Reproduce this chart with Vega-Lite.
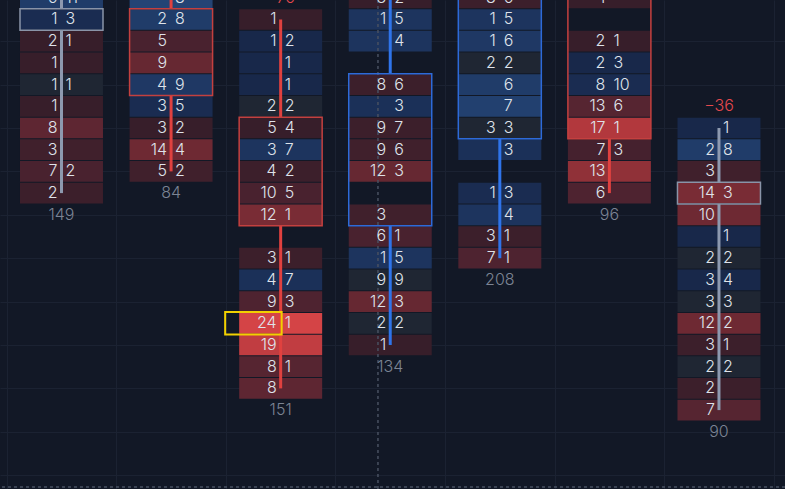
{
  "$schema": "https://vega.github.io/schema/vega-lite/v6.json",
  "width": 785,
  "height": 489,
  "padding": 0,
  "autosize": {"type": "fit", "contains": "padding"},
  "background": "#121826",
  "config": {
    "view": {"stroke": null},
    "axis": {"labels": false, "ticks": false, "domain": false, "title": null, "grid": true, "gridColor": "#1b2232", "gridWidth": 1},
    "text": {"font": "Inter", "fontSize": 16, "fontWeight": 300}
  },
  "datasets": {
    "cells": [
      {"c": 0, "level": -1, "bid": 5, "ask": 11, "delta": 6},
      {"c": 0, "level": 0, "bid": 1, "ask": 3, "delta": 2},
      {"c": 0, "level": 1, "bid": 2, "ask": 1, "delta": -1},
      {"c": 0, "level": 2, "bid": 1, "ask": null, "delta": -1},
      {"c": 0, "level": 3, "bid": 1, "ask": 1, "delta": 0},
      {"c": 0, "level": 4, "bid": 1, "ask": null, "delta": -1},
      {"c": 0, "level": 5, "bid": 8, "ask": null, "delta": -8},
      {"c": 0, "level": 6, "bid": 3, "ask": null, "delta": -3},
      {"c": 0, "level": 7, "bid": 7, "ask": 2, "delta": -5},
      {"c": 0, "level": 8, "bid": 2, "ask": null, "delta": -2},
      {"c": 1, "level": -1, "bid": null, "ask": 8, "delta": 8},
      {"c": 1, "level": 0, "bid": 2, "ask": 8, "delta": 6},
      {"c": 1, "level": 1, "bid": 5, "ask": null, "delta": -5},
      {"c": 1, "level": 2, "bid": 9, "ask": null, "delta": -9},
      {"c": 1, "level": 3, "bid": 4, "ask": 9, "delta": 5},
      {"c": 1, "level": 4, "bid": 3, "ask": 5, "delta": 2},
      {"c": 1, "level": 5, "bid": 3, "ask": 2, "delta": -1},
      {"c": 1, "level": 6, "bid": 14, "ask": 4, "delta": -10},
      {"c": 1, "level": 7, "bid": 5, "ask": 2, "delta": -3},
      {"c": 2, "level": 0, "bid": 1, "ask": null, "delta": -1},
      {"c": 2, "level": 1, "bid": 1, "ask": 2, "delta": 1},
      {"c": 2, "level": 2, "bid": null, "ask": 1, "delta": 1},
      {"c": 2, "level": 3, "bid": null, "ask": 1, "delta": 1},
      {"c": 2, "level": 4, "bid": 2, "ask": 2, "delta": 0},
      {"c": 2, "level": 5, "bid": 5, "ask": 4, "delta": -1},
      {"c": 2, "level": 6, "bid": 3, "ask": 7, "delta": 4},
      {"c": 2, "level": 7, "bid": 4, "ask": 2, "delta": -2},
      {"c": 2, "level": 8, "bid": 10, "ask": 5, "delta": -5},
      {"c": 2, "level": 9, "bid": 12, "ask": 1, "delta": -11},
      {"c": 2, "level": 11, "bid": 3, "ask": 1, "delta": -2},
      {"c": 2, "level": 12, "bid": 4, "ask": 7, "delta": 3},
      {"c": 2, "level": 13, "bid": 9, "ask": 3, "delta": -6},
      {"c": 2, "level": 14, "bid": 24, "ask": 1, "delta": -23},
      {"c": 2, "level": 15, "bid": 19, "ask": null, "delta": -19},
      {"c": 2, "level": 16, "bid": 8, "ask": 1, "delta": -7},
      {"c": 2, "level": 17, "bid": 8, "ask": null, "delta": -8},
      {"c": 3, "level": -1, "bid": 3, "ask": 2, "delta": -1},
      {"c": 3, "level": 0, "bid": 1, "ask": 5, "delta": 4},
      {"c": 3, "level": 1, "bid": null, "ask": 4, "delta": 4},
      {"c": 3, "level": 3, "bid": 8, "ask": 6, "delta": -2},
      {"c": 3, "level": 4, "bid": null, "ask": 3, "delta": 3},
      {"c": 3, "level": 5, "bid": 9, "ask": 7, "delta": -2},
      {"c": 3, "level": 6, "bid": 9, "ask": 6, "delta": -3},
      {"c": 3, "level": 7, "bid": 12, "ask": 3, "delta": -9},
      {"c": 3, "level": 9, "bid": 3, "ask": null, "delta": -3},
      {"c": 3, "level": 10, "bid": 6, "ask": 1, "delta": -5},
      {"c": 3, "level": 11, "bid": 1, "ask": 5, "delta": 4},
      {"c": 3, "level": 12, "bid": 9, "ask": 9, "delta": 0},
      {"c": 3, "level": 13, "bid": 12, "ask": 3, "delta": -9},
      {"c": 3, "level": 14, "bid": 2, "ask": 2, "delta": 0},
      {"c": 3, "level": 15, "bid": 1, "ask": null, "delta": -1},
      {"c": 4, "level": -1, "bid": 8, "ask": 6, "delta": -2},
      {"c": 4, "level": 0, "bid": 1, "ask": 5, "delta": 4},
      {"c": 4, "level": 1, "bid": 1, "ask": 6, "delta": 5},
      {"c": 4, "level": 2, "bid": 2, "ask": 2, "delta": 0},
      {"c": 4, "level": 3, "bid": null, "ask": 6, "delta": 6},
      {"c": 4, "level": 4, "bid": null, "ask": 7, "delta": 7},
      {"c": 4, "level": 5, "bid": 3, "ask": 3, "delta": 0},
      {"c": 4, "level": 6, "bid": null, "ask": 3, "delta": 3},
      {"c": 4, "level": 8, "bid": 1, "ask": 3, "delta": 2},
      {"c": 4, "level": 9, "bid": null, "ask": 4, "delta": 4},
      {"c": 4, "level": 10, "bid": 3, "ask": 1, "delta": -2},
      {"c": 4, "level": 11, "bid": 7, "ask": 1, "delta": -6},
      {"c": 5, "level": -1, "bid": 1, "ask": null, "delta": -1},
      {"c": 5, "level": 1, "bid": 2, "ask": 1, "delta": -1},
      {"c": 5, "level": 2, "bid": 2, "ask": 3, "delta": 1},
      {"c": 5, "level": 3, "bid": 8, "ask": 10, "delta": 2},
      {"c": 5, "level": 4, "bid": 13, "ask": 6, "delta": -7},
      {"c": 5, "level": 5, "bid": 17, "ask": 1, "delta": -16},
      {"c": 5, "level": 6, "bid": 7, "ask": 3, "delta": -4},
      {"c": 5, "level": 7, "bid": 13, "ask": null, "delta": -13},
      {"c": 5, "level": 8, "bid": 6, "ask": null, "delta": -6},
      {"c": 6, "level": 5, "bid": null, "ask": 1, "delta": 1},
      {"c": 6, "level": 6, "bid": 2, "ask": 8, "delta": 6},
      {"c": 6, "level": 7, "bid": 3, "ask": null, "delta": -3},
      {"c": 6, "level": 8, "bid": 14, "ask": 3, "delta": -11},
      {"c": 6, "level": 9, "bid": 10, "ask": null, "delta": -10},
      {"c": 6, "level": 10, "bid": null, "ask": 1, "delta": 1},
      {"c": 6, "level": 11, "bid": 2, "ask": 2, "delta": 0},
      {"c": 6, "level": 12, "bid": 3, "ask": 4, "delta": 1},
      {"c": 6, "level": 13, "bid": 3, "ask": 3, "delta": 0},
      {"c": 6, "level": 14, "bid": 12, "ask": 2, "delta": -10},
      {"c": 6, "level": 15, "bid": 3, "ask": 1, "delta": -2},
      {"c": 6, "level": 16, "bid": 2, "ask": 2, "delta": 0},
      {"c": 6, "level": 17, "bid": 2, "ask": null, "delta": -2},
      {"c": 6, "level": 18, "bid": 7, "ask": null, "delta": -7}
    ],
    "candles": [
      {"c": 0, "dir": "flat", "high": -3, "top": 0, "bot": 0, "low": 8, "total": 149, "net": null},
      {"c": 1, "dir": "down", "high": -3, "top": 0, "bot": 3, "low": 7, "total": 84, "net": null},
      {"c": 2, "dir": "down", "high": 0, "top": 5, "bot": 9, "low": 17, "total": 151, "net": -76},
      {"c": 3, "dir": "up", "high": -3, "top": 3, "bot": 9, "low": 15, "total": 134, "net": null},
      {"c": 4, "dir": "up", "high": -6, "top": -4, "bot": 5, "low": 11, "total": 208, "net": null},
      {"c": 5, "dir": "down", "high": -6, "top": -4, "bot": 5, "low": 8, "total": 96, "net": null},
      {"c": 6, "dir": "flat", "high": 5, "top": 8, "bot": 8, "low": 18, "total": 90, "net": -36}
    ],
    "marker": [{"c": 2, "level": 14}],
    "cursor": [{"cx": 2.888, "cy": 21.54}]
  },
  "encoding": {
    "x": {"field": "c", "type": "quantitative", "scale": {"domain": [-0.5612, 6.6025], "nice": false, "zero": false}, "axis": {"values": [-0.5, 0.5, 1.5, 2.5, 3.5, 4.5, 5.5, 6.5]}}
  },
  "layer": [
    {
      "data": {"name": "cells"},
      "mark": {"type": "rect", "clip": true, "xOffset": -41.5, "x2Offset": 41.5, "yOffset": -10.35, "y2Offset": 10.35},
      "encoding": {
        "x2": {"field": "c"},
        "y": {"field": "level", "type": "quantitative", "scale": {"domain": [-0.8986, 21.636], "nice": false, "zero": false, "reverse": true}, "axis": {"values": [-1, 1, 3, 5, 7, 9, 11, 13, 15, 17, 19, 21]}},
        "y2": {"field": "level"},
        "color": {"field": "delta", "type": "quantitative", "legend": null, "scale": {"domain": [-23, -16, -10, -6, -1, 0, 1, 3, 7], "range": ["#d44446", "#b2383d", "#6e2933", "#4e2330", "#371e2a", "#1f2633", "#18284a", "#1b3058", "#22406f"], "interpolate": "rgb"}}
      }
    },
    {
      "data": {"name": "cursor"},
      "mark": {"type": "rule", "clip": true, "color": "#485061", "strokeDash": [3, 3], "strokeWidth": 1.5},
      "encoding": {"x": {"field": "cx", "type": "quantitative"}}
    },
    {
      "data": {"name": "cursor"},
      "mark": {"type": "rule", "clip": true, "color": "#485061", "strokeDash": [3, 3], "strokeWidth": 1.5},
      "encoding": {"x": null, "y": {"field": "cy", "type": "quantitative"}}
    },
    {
      "data": {"name": "candles"},
      "mark": {"type": "rule", "clip": true, "strokeWidth": 3, "y2Offset": -10.85},
      "encoding": {
        "y": {"field": "high", "type": "quantitative"},
        "y2": {"field": "top"},
        "color": {"field": "dir", "type": "nominal", "legend": null, "scale": {"domain": ["down", "up", "flat"], "range": ["#e0413f", "#2f74ea", "#8d99af"]}}
      }
    },
    {
      "data": {"name": "candles"},
      "mark": {"type": "rule", "clip": true, "strokeWidth": 3, "yOffset": 10.85},
      "encoding": {
        "y": {"field": "bot", "type": "quantitative"},
        "y2": {"field": "low"},
        "color": {"field": "dir", "type": "nominal", "legend": null, "scale": {"domain": ["down", "up", "flat"], "range": ["#e0413f", "#2f74ea", "#8d99af"]}}
      }
    },
    {
      "data": {"name": "cells"},
      "transform": [{"filter": {"field": "bid", "valid": true}}],
      "mark": {"type": "text", "clip": true, "align": "right", "baseline": "middle", "dx": -4, "color": "#dfe3ea"},
      "encoding": {
        "y": {"field": "level", "type": "quantitative"},
        "text": {"field": "bid", "type": "quantitative"}
      }
    },
    {
      "data": {"name": "cells"},
      "transform": [{"filter": {"field": "ask", "valid": true}}],
      "mark": {"type": "text", "clip": true, "align": "left", "baseline": "middle", "dx": 4, "color": "#dfe3ea"},
      "encoding": {
        "y": {"field": "level", "type": "quantitative"},
        "text": {"field": "ask", "type": "quantitative"}
      }
    },
    {
      "data": {"name": "candles"},
      "mark": {"type": "rect", "clip": true, "fill": null, "fillOpacity": 0, "strokeWidth": 1.5, "xOffset": -41.5, "x2Offset": 41.5, "yOffset": -10.85, "y2Offset": 10.85},
      "encoding": {
        "x2": {"field": "c"},
        "y": {"field": "top", "type": "quantitative"},
        "y2": {"field": "bot"},
        "stroke": {"field": "dir", "type": "nominal", "legend": null, "scale": {"domain": ["down", "up", "flat"], "range": ["#c4403f", "#2d6ad9", "#8a94a8"]}}
      }
    },
    {
      "data": {"name": "marker"},
      "mark": {"type": "rect", "clip": true, "fill": null, "fillOpacity": 0, "stroke": "#f2d000", "strokeWidth": 2, "xOffset": -55.5, "x2Offset": 1, "yOffset": -11.3, "y2Offset": 11.3},
      "encoding": {
        "x2": {"field": "c"},
        "y": {"field": "level", "type": "quantitative"},
        "y2": {"field": "level"}
      }
    },
    {
      "data": {"name": "candles"},
      "mark": {"type": "text", "clip": true, "align": "center", "baseline": "middle", "color": "#7c8494", "yOffset": 21.7},
      "encoding": {
        "y": {"field": "low", "type": "quantitative"},
        "text": {"field": "total", "type": "quantitative"}
      }
    },
    {
      "data": {"name": "candles"},
      "transform": [{"filter": {"field": "net", "valid": true}}],
      "mark": {"type": "text", "clip": true, "align": "center", "baseline": "middle", "color": "#e5484d", "yOffset": -21.7},
      "encoding": {
        "y": {"field": "high", "type": "quantitative"},
        "text": {"field": "net", "type": "quantitative"}
      }
    }
  ]
}
